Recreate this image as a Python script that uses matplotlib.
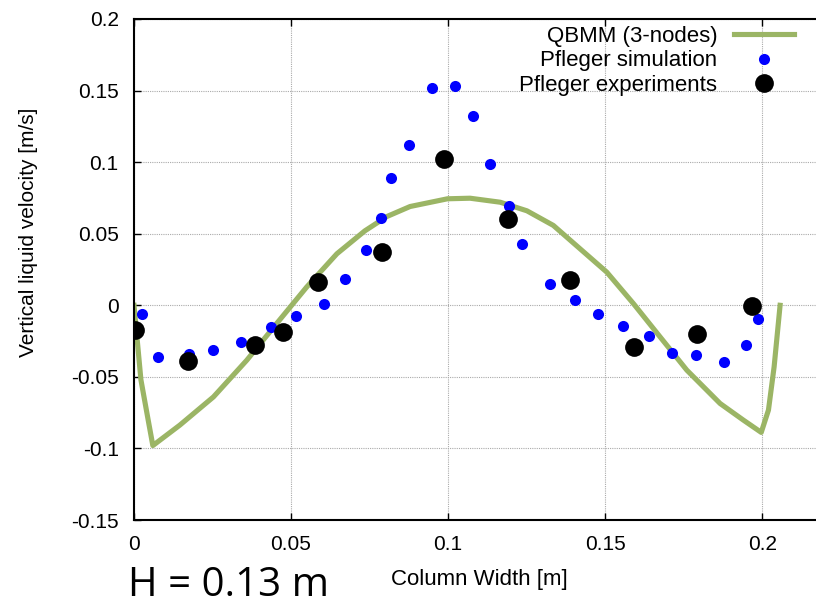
import matplotlib.pyplot as plt

# QBMM (3-nodes) curve
qbmm_x = [0, 0.0022, 0.0045, 0.006, 0.0146, 0.0253, 0.0359, 0.0454, 0.055, 0.0646, 0.0735,
          0.0805, 0.0879, 0.0998, 0.107, 0.1166, 0.1251, 0.1335, 0.142, 0.1505, 0.159, 0.1675,
          0.176, 0.1866, 0.194, 0.1997, 0.202, 0.2038, 0.2057]
qbmm_y = [0, -0.052, -0.080, -0.098, -0.0837, -0.064, -0.0384, -0.0128, 0.0128, 0.036, 0.052,
          0.062, 0.069, 0.0744, 0.0748, 0.072, 0.066, 0.0558, 0.0395, 0.0232, 0.0012, -0.0221,
          -0.0453, -0.0686, -0.0802, -0.0888, -0.0732, -0.043, 0]

# Pfleger simulation
sim_x = [0.0027, 0.0078, 0.0176, 0.0253, 0.034, 0.0436, 0.0516, 0.0606, 0.0672, 0.0738, 0.0785,
         0.0819, 0.0876, 0.095, 0.1023, 0.108, 0.1134, 0.1193, 0.1234, 0.1324, 0.1403, 0.1476,
         0.1557, 0.1639, 0.1713, 0.179, 0.1878, 0.1949, 0.1988]
sim_y = [-0.0058, -0.036, -0.034, -0.0314, -0.0256, -0.0151, -0.0074, 0.0012, 0.0186, 0.0384, 0.0609,
         0.0888, 0.112, 0.1518, 0.153, 0.132, 0.0988, 0.0697, 0.043, 0.0146, 0.0035, -0.0063,
         -0.0142, -0.0214, -0.033, -0.0346, -0.0395, -0.0274, -0.0098]

# Pfleger experiments
exp_x = [0.0002, 0.0172, 0.0384, 0.0474, 0.0585, 0.079, 0.0987, 0.1192, 0.1388, 0.1592, 0.1792, 0.1968]
exp_y = [-0.0174, -0.0388, -0.0274, -0.0186, 0.0163, 0.0372, 0.1021, 0.06, 0.0174, -0.029, -0.0204, -0.0007]

xticks = [0, 0.05, 0.1, 0.15, 0.2]
yticks = [-0.15, -0.1, -0.05, 0, 0.05, 0.1, 0.15, 0.2]

plt.rcParams['font.family'] = ['Liberation Sans', 'DejaVu Sans']

fig = plt.figure(figsize=(8.16, 6.07), dpi=100)
ax = fig.add_axes([134 / 816, 87 / 607, 691 / 816, 501 / 607])

ax.plot(qbmm_x, qbmm_y, color='#9bb565', lw=3.7, label='QBMM (3-nodes)', zorder=2)
ax.plot(sim_x, sim_y, 'o', color='#0000ff', ms=8, mec='none', label='Pfleger simulation', zorder=3)
ax.plot(exp_x, exp_y, 'o', color='black', ms=13.5, mec='none', label='Pfleger experiments', zorder=4)

ax.set_xlim(0, 0.22)
ax.set_ylim(-0.15, 0.2)
ax.set_xticks(xticks)
ax.set_xticklabels(['0', '0.05', '0.1', '0.15', '0.2'])
ax.set_yticks(yticks)
ax.set_yticklabels(['-0.15', '-0.1', '-0.05', '0', '0.05', '0.1', '0.15', '0.2'])
ax.tick_params(direction='in', length=5, width=1, labelsize=15, top=True, pad=11)
ax.grid(True, color='#aaaaaa', lw=0.8, ls=(0, (1, 1)))
for s in ax.spines.values():
    s.set_linewidth(1.5)

leg = ax.legend(loc='upper right', bbox_to_anchor=(803 / 816, 1 - 17 / 607),
                bbox_transform=fig.transFigure, frameon=False, markerfirst=False,
                fontsize=16, handlelength=2.7, handletextpad=0.75, labelspacing=0.16,
                borderaxespad=0)
for t in leg.get_texts():
    t.set_ha('right')

fig.text(28 / 816, 1 - 232 / 607, 'Vertical liquid velocity [m/s]', rotation=90,
         ha='center', va='center', fontsize=15)
fig.text(479 / 816, 1 - 580 / 607, 'Column Width [m]', ha='center', va='center', fontsize=16)
fig.text(128 / 816, 1 / 607, 'H = 0.13 m', ha='left', va='bottom', fontsize=29,
         family='Open Sans')

fig.savefig('out.png', dpi=100)
